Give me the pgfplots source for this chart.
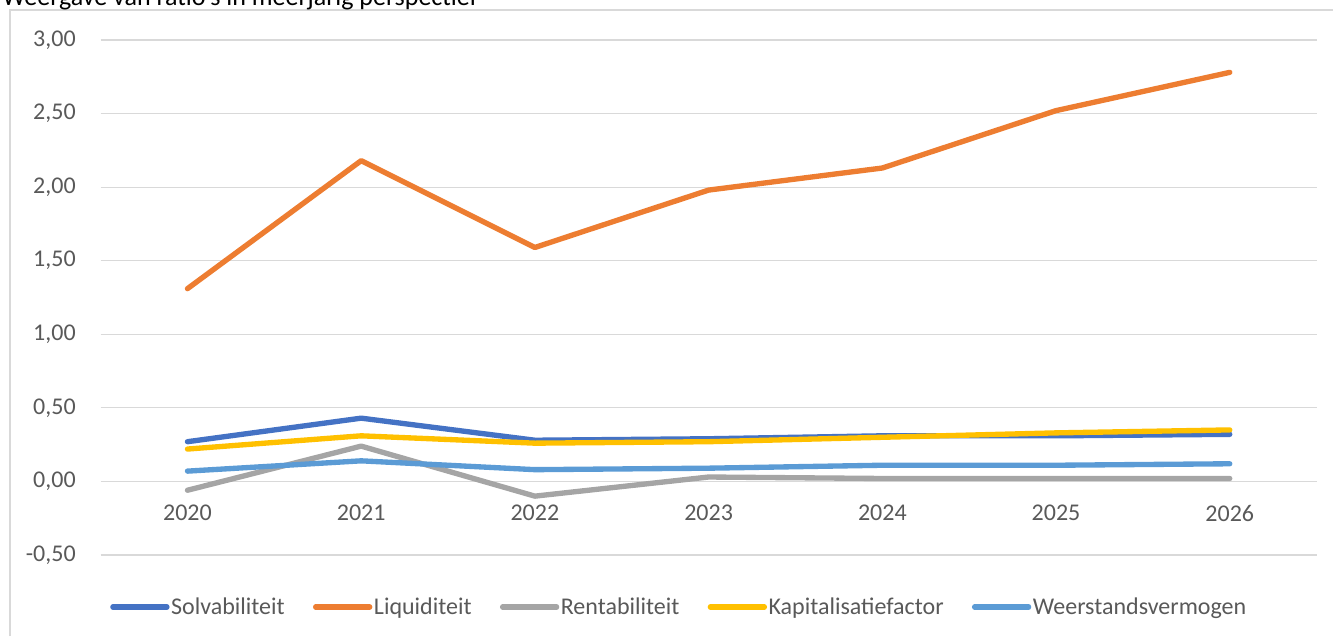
\documentclass[border=0pt]{standalone}
\usepackage{pgfplots}
\pgfplotsset{compat=1.18}
\usepackage{fontspec}
\setmainfont{Carlito}
\definecolor{cSolv}{HTML}{4472C4}
\definecolor{cLiq}{HTML}{ED7D31}
\definecolor{cRent}{HTML}{A5A5A5}
\definecolor{cKap}{HTML}{FFC000}
\definecolor{cWeer}{HTML}{5B9BD5}
\definecolor{gridgray}{HTML}{D9D9D9}
\definecolor{txtgray}{HTML}{595959}
\begin{document}
\begin{tikzpicture}
\useasboundingbox (0,0) rectangle (999.75pt,477pt);
% chart area frame
\draw[gridgray, line width=0.8pt] (7.5pt,0pt) -- (7.5pt,469.5pt) -- (1005pt,469.5pt);
% title, cut off at the top edge as in the screenshot
\node[anchor=base west, inner sep=0pt, font=\fontsize{19.5}{22}\selectfont]
  at (1.5pt,473pt) {Weergave van ratio's in meerjarig perspectief};
\begin{axis}[
    at={(75.45pt,60.75pt)}, anchor=south west,
    scale only axis,
    width=912pt, height=386.25pt,
    xmin=-0.5, xmax=6.5,
    ymin=-0.5, ymax=3,
    xtick={0,...,6},
    xticklabels={2020,2021,2022,2023,2024,2025,2026},
    ytick={-0.5,0,...,3},
    ymajorgrids,
    grid style={gridgray, line width=0.9pt},
    axis line style={draw=none},
    major tick length=0pt,
    tick label style={font=\fontsize{18}{21}\selectfont, text=txtgray, inner sep=0pt},
    xticklabel style={anchor=center, yshift=31.5pt},
    yticklabel style={anchor=east, xshift=-18.5pt},
    /pgf/number format/assume math mode=true,
    yticklabel={\pgfmathprintnumber[fixed, fixed zerofill, precision=2, use comma]{\tick}},
    legend columns=-1,
    legend style={draw=none, fill=none, inner sep=0pt,
        at={(0.0077,-0.101)}, anchor=west,
        font=\fontsize{18}{21}\selectfont, text=txtgray,
        nodes={inner sep=1.2pt},
        /tikz/every even column/.append style={column sep=20pt}},
    legend image code/.code={\draw[#1, line width=4pt, line cap=round] (1.5pt,0pt) -- (42pt,0pt);},
    every axis plot/.append style={line width=4pt, line cap=round, line join=round, no markers},
]
\addplot[cSolv] coordinates {(0,0.27) (1,0.43) (2,0.28) (3,0.29) (4,0.31) (5,0.31) (6,0.32)};
\addlegendentry{Solvabiliteit}
\addplot[cLiq] coordinates {(0,1.31) (1,2.18) (2,1.59) (3,1.98) (4,2.13) (5,2.52) (6,2.78)};
\addlegendentry{Liquiditeit}
\addplot[cRent] coordinates {(0,-0.06) (1,0.24) (2,-0.10) (3,0.03) (4,0.02) (5,0.02) (6,0.02)};
\addlegendentry{Rentabiliteit}
\addplot[cKap] coordinates {(0,0.22) (1,0.31) (2,0.26) (3,0.27) (4,0.30) (5,0.33) (6,0.35)};
\addlegendentry{Kapitalisatiefactor}
\addplot[cWeer] coordinates {(0,0.07) (1,0.14) (2,0.08) (3,0.09) (4,0.11) (5,0.11) (6,0.12)};
\addlegendentry{Weerstandsvermogen}
\end{axis}
\end{tikzpicture}
\end{document}
